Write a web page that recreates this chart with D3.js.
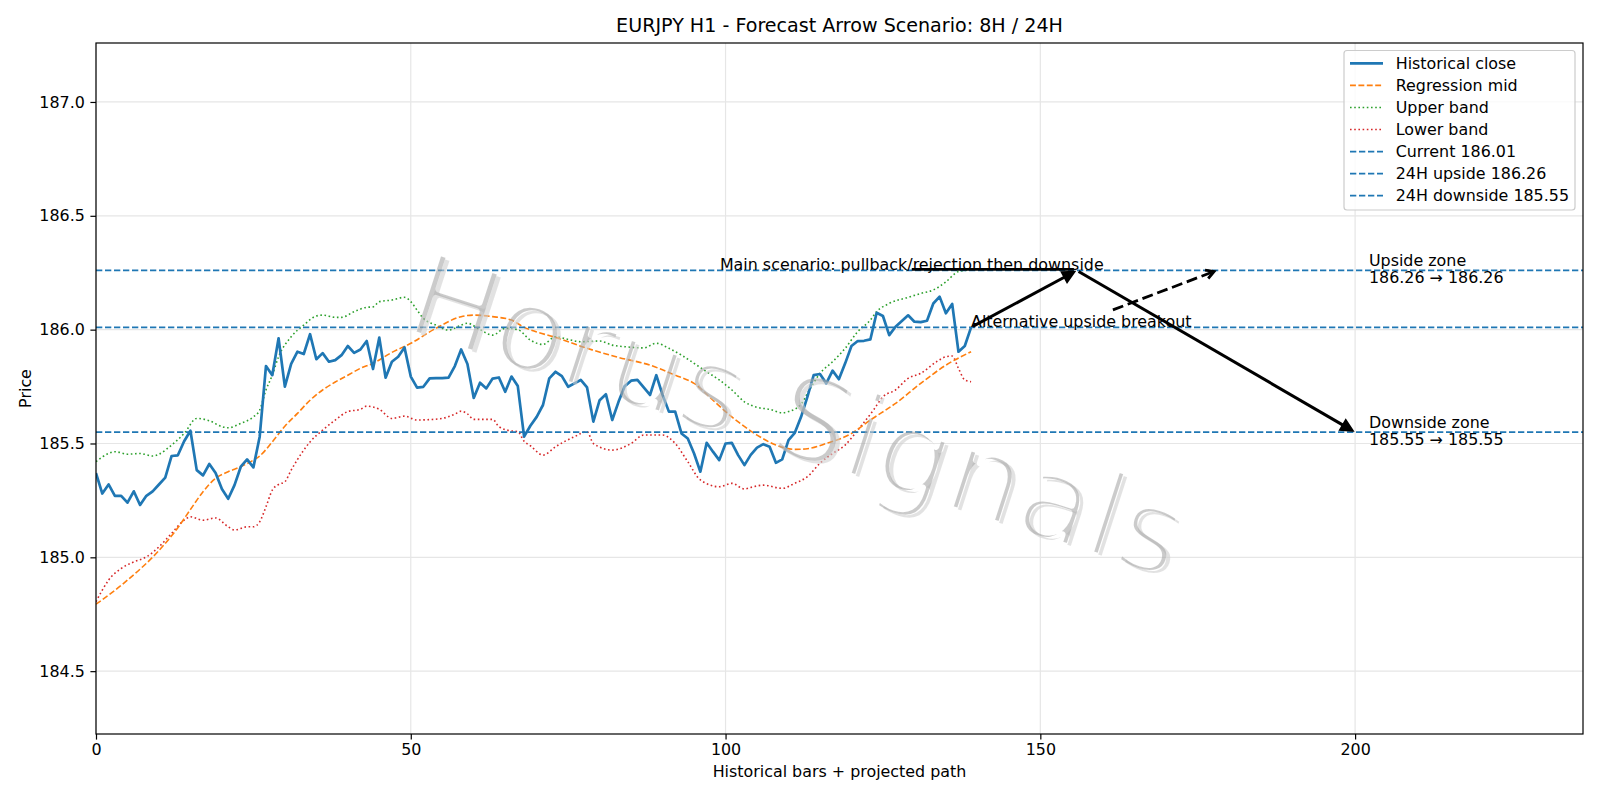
<!DOCTYPE html>
<html>
<head>
<meta charset="utf-8">
<script src="https://cdn.jsdelivr.net/npm/d3@7"></script>
<style>
	body { margin: 0; background: #fff; }
	text { font-family: "DejaVu Sans", sans-serif; }
</style>
</head>
<body>
<svg id="chart" width="1600" height="800"></svg>
<script>
// historical close, one value per bar (index 0..139)
const closeVals = [
	185.37, 185.28, 185.32, 185.27, 185.27, 185.24, 185.29, 185.23, 185.27, 185.29,
	185.32, 185.35, 185.445, 185.448, 185.51, 185.556, 185.383, 185.36, 185.41, 185.37,
	185.30, 185.257, 185.317, 185.398, 185.43, 185.395, 185.53, 185.84, 185.80, 185.962,
	185.75, 185.85, 185.903, 185.893, 185.98, 185.87, 185.897, 185.859, 185.866, 185.888,
	185.928, 185.898, 185.913, 185.95, 185.827, 185.965, 185.789, 185.859, 185.881, 185.922,
	185.794, 185.745, 185.749, 185.786, 185.787, 185.787, 185.789, 185.84, 185.913, 185.849,
	185.70, 185.767, 185.742, 185.785, 185.79, 185.727, 185.794, 185.752, 185.53, 185.578,
	185.617, 185.669, 185.786, 185.815, 185.796, 185.749, 185.764, 185.779, 185.746, 185.596,
	185.69, 185.716, 185.603, 185.683, 185.752, 185.776, 185.779, 185.746, 185.713, 185.80,
	185.713, 185.64, 185.64, 185.544, 185.522, 185.456, 185.376, 185.503, 185.464, 185.427,
	185.50, 185.503, 185.449, 185.405, 185.45, 185.482, 185.497, 185.486, 185.415, 185.43,
	185.515, 185.547, 185.617, 185.705, 185.80, 185.805, 185.764, 185.82, 185.782, 185.852,
	185.928, 185.95, 185.951, 185.957, 186.074, 186.06, 185.976, 186.013, 186.038, 186.063,
	186.035, 186.033, 186.039, 186.115, 186.145, 186.072, 186.113, 185.903, 185.928, 186.01
];

// regression mid, read at these bar positions
const midX = [0, 5, 10, 13, 15, 17, 19, 21, 23, 25, 26, 28, 30, 32, 34, 36, 38, 40, 42, 44, 47, 50, 54, 58, 60, 63, 66, 68, 70, 73, 78, 83, 88, 92, 95, 98, 101, 105, 108, 111, 113, 116, 120, 123, 127, 131, 135, 139];
const midY = [184.794, 184.90, 185.03, 185.13, 185.21, 185.288, 185.347, 185.376, 185.398, 185.427, 185.445, 185.507, 185.576, 185.632, 185.69, 185.735, 185.77, 185.80, 185.83, 185.852, 185.90, 185.94, 186.006, 186.057, 186.064, 186.057, 186.042, 186.01, 185.99, 185.966, 185.918, 185.878, 185.844, 185.80, 185.764, 185.69, 185.617, 185.537, 185.493, 185.474, 185.477, 185.50, 185.544, 185.603, 185.676, 185.764, 185.844, 185.903];

const upperX = [0, 2, 3, 5, 7, 9, 10, 12, 14, 16, 18, 20, 21, 23, 25, 26, 27, 28, 29, 31, 33, 35, 36, 38, 39, 41, 43, 44, 45, 47, 49, 50, 51, 52, 54, 56, 58, 59, 61, 63, 65, 67, 69, 71, 73, 75, 77, 80, 82, 84, 87, 89, 91, 93, 95, 97, 99, 101, 103, 105, 107, 109, 110, 112, 113, 115, 117, 119, 121, 123, 124, 126, 129, 131, 133, 135, 137, 139];
const upperY = [185.42, 185.456, 185.464, 185.453, 185.456, 185.445, 185.453, 185.493, 185.544, 185.61, 185.60, 185.574, 185.569, 185.588, 185.617, 185.647, 185.735, 185.80, 185.881, 185.969, 186.02, 186.06, 186.064, 186.054, 186.054, 186.079, 186.098, 186.10, 186.123, 186.13, 186.142, 186.123, 186.086, 186.05, 186.02, 185.998, 186.02, 186.028, 186.0, 185.976, 186.006, 186.0, 185.954, 185.935, 185.969, 185.957, 185.947, 185.95, 185.932, 185.925, 185.92, 185.94, 185.918, 185.888, 185.852, 185.815, 185.779, 185.735, 185.683, 185.659, 185.65, 185.635, 185.64, 185.673, 185.72, 185.808, 185.859, 185.918, 185.991, 186.042, 186.079, 186.115, 186.142, 186.159, 186.174, 186.21, 186.255, 186.262];

const lowerX = [0, 1, 2, 4, 6, 8, 10, 12, 14, 15, 17, 19, 21, 22, 24, 25, 26, 27, 28, 29, 30, 31, 33, 34, 36, 38, 40, 42, 43, 45, 47, 49, 51, 53, 55, 57, 58, 59, 60, 63, 64, 66, 67, 68, 69, 71, 73, 76, 78, 79, 82, 85, 87, 90, 92, 94, 96, 99, 101, 103, 104, 106, 109, 111, 113, 115, 117, 119, 121, 123.5, 125, 127, 129, 131, 133.5, 135, 136, 137, 138, 139];
const lowerY = [184.805, 184.856, 184.90, 184.951, 184.98, 185.002, 185.046, 185.105, 185.163, 185.178, 185.163, 185.173, 185.134, 185.12, 185.134, 185.134, 185.156, 185.222, 185.295, 185.32, 185.332, 185.383, 185.471, 185.507, 185.559, 185.603, 185.64, 185.65, 185.664, 185.65, 185.61, 185.62, 185.603, 185.605, 185.61, 185.629, 185.642, 185.63, 185.606, 185.606, 185.574, 185.555, 185.552, 185.51, 185.49, 185.449, 185.486, 185.53, 185.552, 185.50, 185.471, 185.50, 185.537, 185.537, 185.50, 185.42, 185.34, 185.31, 185.325, 185.30, 185.307, 185.317, 185.303, 185.325, 185.354, 185.413, 185.456, 185.493, 185.559, 185.647, 185.705, 185.735, 185.786, 185.808, 185.859, 185.881, 185.884, 185.83, 185.779, 185.771];

const currentPrice = 186.01;
const upside24 = 186.26;
const downside24 = 185.55;

// forecast arrows: start, 8H peak, 24H target
const mainPathX = [139, 155.8, 200];
const mainPathY = [186.01, 186.26, 185.55];
const altTarget = [178, 186.26];

const xTicks = [0, 50, 100, 150, 200];
const yTicks = [184.5, 185.0, 185.5, 186.0, 186.5, 187.0];

const legendItems = [
	{ label: "Historical close", color: "#1f77b4", dash: null, w: 2.7 },
	{ label: "Regression mid", color: "#ff7f0e", dash: "5.9,2.5", w: 1.6 },
	{ label: "Upper band", color: "#2ca02c", dash: "1.6,2.6", w: 1.6 },
	{ label: "Lower band", color: "#d62728", dash: "1.6,2.6", w: 1.6 },
	{ label: "Current 186.01", color: "#1f77b4", dash: "6.3,2.7", w: 1.7 },
	{ label: "24H upside 186.26", color: "#1f77b4", dash: "6.3,2.7", w: 1.7 },
	{ label: "24H downside 185.55", color: "#1f77b4", dash: "6.3,2.7", w: 1.7 }
];

const FS = 15.9;
const svg = d3.select("#chart");
const L = 96, R = 1583, T = 43, B = 734;

const xs = d3.scaleLinear().domain([0, 236.2]).range([L, R]);
const ys = d3.scaleLinear().domain([184.224, 187.259]).range([B, T]);

const defs = svg.append("defs");
defs.append("clipPath").attr("id", "plotClip")
	.append("rect").attr("x", L).attr("y", T).attr("width", R - L).attr("height", B - T);

// grid
const grid = svg.append("g");
grid.selectAll(".gx").data(xTicks).enter().append("line")
	.attr("x1", d => xs(d)).attr("x2", d => xs(d)).attr("y1", T).attr("y2", B)
	.attr("stroke", "#e6e6e6").attr("stroke-width", 1.2);
grid.selectAll(".gy").data(yTicks).enter().append("line")
	.attr("x1", L).attr("x2", R).attr("y1", d => ys(d)).attr("y2", d => ys(d))
	.attr("stroke", "#e6e6e6").attr("stroke-width", 1.2);

const plot = svg.append("g").attr("clip-path", "url(#plotClip)");

const line = d3.line().x(d => xs(d[0])).y(d => ys(d[1]));
const smooth = d3.line().x(d => xs(d[0])).y(d => ys(d[1])).curve(d3.curveMonotoneX);

plot.append("path")
	.datum(upperX.map((d, i) => [d, upperY[i]]))
	.attr("d", smooth).attr("fill", "none")
	.attr("stroke", "#2ca02c").attr("stroke-width", 1.6).attr("stroke-dasharray", "1.6,2.6");

plot.append("path")
	.datum(lowerX.map((d, i) => [d, lowerY[i]]))
	.attr("d", smooth).attr("fill", "none")
	.attr("stroke", "#d62728").attr("stroke-width", 1.6).attr("stroke-dasharray", "1.6,2.6");

plot.append("path")
	.datum(midX.map((d, i) => [d, midY[i]]))
	.attr("d", smooth).attr("fill", "none")
	.attr("stroke", "#ff7f0e").attr("stroke-width", 1.6).attr("stroke-dasharray", "5.9,2.5");

plot.append("path")
	.datum(closeVals.map((d, i) => [i, d]))
	.attr("d", line).attr("fill", "none")
	.attr("stroke", "#1f77b4").attr("stroke-width", 2.7).attr("stroke-linejoin", "round");

// level lines
plot.selectAll(".lvl").data([currentPrice, upside24, downside24]).enter().append("line")
	.attr("x1", L).attr("x2", R).attr("y1", d => ys(d)).attr("y2", d => ys(d))
	.attr("stroke", "#1f77b4").attr("stroke-width", 1.7).attr("stroke-dasharray", "6.3,2.7");

// watermark: thin letters made by eroding the glyphs inside a mask
const wmTransform = "translate(785,455) rotate(18)";
const wmMask = defs.append("mask").attr("id", "wmMask")
	.attr("maskUnits", "userSpaceOnUse").attr("x", -100).attr("y", -100).attr("width", 1800).attr("height", 1000);
["white", "black"].forEach(c => {
	wmMask.append("text").attr("transform", wmTransform)
		.attr("text-anchor", "middle").attr("font-size", 118)
		.attr("fill", c === "white" ? "#fff" : "none")
		.attr("stroke", c === "white" ? "none" : "#000")
		.attr("stroke-width", 7).attr("stroke-linejoin", "round")
		.text("Horus Signals");
});
svg.append("g").attr("transform", "translate(4,3)")
	.append("rect").attr("x", -100).attr("y", -100).attr("width", 1800).attr("height", 1000)
	.attr("fill", "#d0d0d0").attr("opacity", 0.6).attr("mask", "url(#wmMask)");
svg.append("rect").attr("x", -100).attr("y", -100).attr("width", 1800).attr("height", 1000)
	.attr("fill", "#aaaaaa").attr("opacity", 0.6).attr("mask", "url(#wmMask)");

// arrows
function arrowHead(g, x1, y1, x2, y2, len, half, filled) {
	const a = Math.atan2(y2 - y1, x2 - x1);
	const bx = x2 - len * Math.cos(a), by = y2 - len * Math.sin(a);
	const px = -Math.sin(a) * half, py = Math.cos(a) * half;
	if (filled) {
		g.append("path")
			.attr("d", `M${x2},${y2}L${bx + px},${by + py}L${bx - px},${by - py}Z`)
			.attr("fill", "#000").attr("stroke", "#000").attr("stroke-width", 2.2).attr("stroke-linejoin", "miter");
	} else {
		g.append("path")
			.attr("d", `M${bx + px},${by + py}L${x2},${y2}L${bx - px},${by - py}`)
			.attr("fill", "none").attr("stroke", "#000").attr("stroke-width", 2.8);
	}
}

const arrows = svg.append("g");
const mainText = arrows.append("text")
	.attr("x", xs(99.1)).attr("y", ys(186.26))
	.attr("font-size", FS).attr("fill", "#000")
	.text("Main scenario: pullback/rejection then downside");
const mtBox = mainText.node().getBBox();
const peakPx = [xs(mainPathX[1]), ys(mainPathY[1])];
arrows.append("line")
	.attr("x1", mtBox.x + mtBox.width / 2).attr("y1", ys(186.26) - 1)
	.attr("x2", peakPx[0] - 3).attr("y2", ys(186.26) - 1)
	.attr("stroke", "#000").attr("stroke-width", 2.8);

for (let k = 0; k < 2; k++) {
	const x1 = xs(mainPathX[k]), y1 = ys(mainPathY[k]);
	const x2 = xs(mainPathX[k + 1]), y2 = ys(mainPathY[k + 1]);
	const a = Math.atan2(y2 - y1, x2 - x1);
	const ex = x2 - 3 * Math.cos(a), ey = y2 - 3 * Math.sin(a);
	arrows.append("line")
		.attr("x1", x1 + 2 * Math.cos(a)).attr("y1", y1 + 2 * Math.sin(a))
		.attr("x2", ex - 6 * Math.cos(a)).attr("y2", ey - 6 * Math.sin(a))
		.attr("stroke", "#000").attr("stroke-width", 3);
	arrowHead(arrows, x1, y1, ex, ey, 11, 5.5, true);
}

const altText = arrows.append("text")
	.attr("x", xs(139)).attr("y", ys(186.01))
	.attr("font-size", FS).attr("fill", "#000")
	.text("Alternative upside breakout");
const atBox = altText.node().getBBox();
{
	const cx = atBox.x + atBox.width / 2, cy = atBox.y + atBox.height / 2;
	const tx = xs(altTarget[0]) - 2.5, ty = ys(altTarget[1]) + 1;
	const a = Math.atan2(ty - cy, tx - cx);
	// arrow leaves the padded text box
	const topY = atBox.y - 2.5;
	const sx = cx + (topY - cy) / Math.tan(a), sy = topY;
	arrows.append("line")
		.attr("x1", sx).attr("y1", sy).attr("x2", tx).attr("y2", ty)
		.attr("stroke", "#000").attr("stroke-width", 2.8).attr("stroke-dasharray", "11,4.8");
	arrowHead(arrows, cx, cy, tx, ty, 8, 4.5, false);
}

// zone labels
function zoneLabel(lines, v) {
	const t = svg.append("text").attr("x", xs(202.2)).attr("y", ys(v))
		.attr("font-size", FS).attr("fill", "#000");
	t.append("tspan").attr("x", xs(202.2)).attr("dy", -4).text(lines[0]);
	t.append("tspan").attr("x", xs(202.2)).attr("dy", 17).text(lines[1]);
}
zoneLabel(["Upside zone", "186.26 \u2192 186.26"], upside24);
zoneLabel(["Downside zone", "185.55 \u2192 185.55"], downside24);

// axes
svg.append("g").attr("transform", `translate(0,${B})`)
	.call(d3.axisBottom(xs).tickValues(xTicks).tickSize(5.6).tickPadding(4.5).tickFormat(d3.format("d")))
	.call(g => g.select(".domain").remove())
	.call(g => g.selectAll("text").attr("font-size", FS).attr("fill", "#000").attr("font-family", "DejaVu Sans"))
	.call(g => g.selectAll("line").attr("stroke", "#000").attr("stroke-width", 1.2));

svg.append("g").attr("transform", `translate(${L},0)`)
	.call(d3.axisLeft(ys).tickValues(yTicks).tickSize(5.6).tickPadding(5.6).tickFormat(d3.format(".1f")))
	.call(g => g.select(".domain").remove())
	.call(g => g.selectAll("text").attr("font-size", FS).attr("fill", "#000").attr("font-family", "DejaVu Sans"))
	.call(g => g.selectAll("line").attr("stroke", "#000").attr("stroke-width", 1.2));

svg.append("rect").attr("x", L).attr("y", T).attr("width", R - L).attr("height", B - T)
	.attr("fill", "none").attr("stroke", "#000").attr("stroke-width", 1.2);

// titles
svg.append("text").attr("x", (L + R) / 2).attr("y", 32).attr("text-anchor", "middle")
	.attr("font-size", 19.1).attr("fill", "#000")
	.text("EURJPY H1 - Forecast Arrow Scenario: 8H / 24H");
svg.append("text").attr("x", (L + R) / 2).attr("y", 777).attr("text-anchor", "middle")
	.attr("font-size", FS).attr("fill", "#000")
	.text("Historical bars + projected path");
svg.append("text").attr("transform", `translate(31,${(T + B) / 2}) rotate(-90)`)
	.attr("text-anchor", "middle").attr("font-size", FS).attr("fill", "#000")
	.text("Price");

// legend
const lg = svg.append("g");
lg.append("rect").attr("x", 1344).attr("y", 50.5).attr("width", 231).attr("height", 159.5)
	.attr("rx", 3).attr("fill", "#fff").attr("fill-opacity", 0.8)
	.attr("stroke", "#cccccc").attr("stroke-width", 1.2);
legendItems.forEach((d, i) => {
	const yy = 63.3 + i * 22.07;
	lg.append("line").attr("x1", 1350).attr("x2", 1383).attr("y1", yy).attr("y2", yy)
		.attr("stroke", d.color).attr("stroke-width", d.w)
		.attr("stroke-dasharray", d.dash);
	lg.append("text").attr("x", 1395.7).attr("y", yy + 5.7)
		.attr("font-size", FS).attr("fill", "#000").text(d.label);
});
</script>
</body>
</html>
